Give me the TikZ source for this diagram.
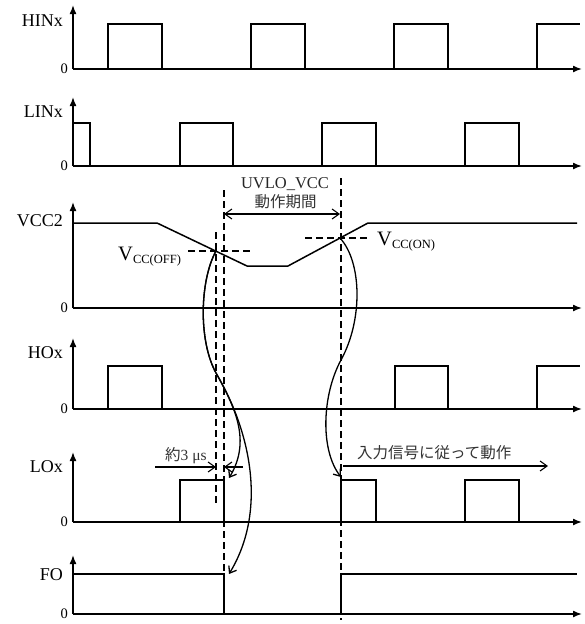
\documentclass[tikz,border=0pt]{standalone}
\usepackage{fontspec}
\setmainfont{Liberation Serif}
\newfontfamily\cjk{Noto Sans CJK JP}
\usetikzlibrary{arrows.meta}
\begin{document}
\begin{tikzpicture}[x=1pt,y=-1pt,
  axis/.style={line width=1.5pt,-{Latex[length=9pt,width=7pt]}},
  sig/.style={line width=1.5pt,line join=miter},
  dsh/.style={line width=1.2pt,dash pattern=on 7pt off 4pt},
  curve/.style={line width=1.3pt,-{Straight Barb[length=6pt,width=9pt]}},
  dim/.style={line width=1.1pt,-{Straight Barb[length=7pt,width=10pt]}},
  lbl/.style={anchor=base east,inner sep=0pt,font=\fontsize{18}{20}\selectfont},
  zero/.style={anchor=base east,inner sep=0pt,font=\fontsize{14.5}{16}\selectfont},
  jp/.style={inner sep=0pt,text=black!80,font=\cjk\fontsize{15.5}{17}\selectfont}]
\useasboundingbox (0,0) rectangle (584,624);

% ---------- axes ----------
\foreach \b/\t in {69/5,166/97,308/202,409/338,522/452,614/555}{
  \draw[axis] (73,\b) -- (73,\t);
  \draw[axis] (73,\b) -- (582,\b);
}

% ---------- labels ----------
\node[lbl] (hin) at (63,26) {HINx};
\node[lbl] (lin) at (63,117) {LINx};
\node[lbl] (vcc) at (63,226) {VCC2};
\node[lbl] (ho) at (63,358) {HOx};
\node[lbl] (lo) at (63,472) {LOx};
\node[lbl] (fo) at (63,580) {FO};
\node[zero] (z1) at (68,73) {0};
\node[zero] (z2) at (68,170) {0};
\node[zero] (z3) at (68,312) {0};
\node[zero] (z4) at (68,413) {0};
\node[zero] (z5) at (68,526) {0};
\node[zero] (z6) at (68,618) {0};

% ---------- HINx ----------
\draw[sig] (73,69) -- (108,69) -- (108,24) -- (162,24) -- (162,69) -- (251,69) -- (251,24) -- (305,24) -- (305,69)
  -- (394,69) -- (394,24) -- (448,24) -- (448,69) -- (537,69) -- (537,24) -- (580,24);
% ---------- LINx ----------
\draw[sig] (73,123) -- (90,123) -- (90,166) -- (180,166) -- (180,123) -- (233,123) -- (233,166) -- (322,166)
  -- (322,123) -- (376,123) -- (376,166) -- (465,166) -- (465,123) -- (519,123) -- (519,166);
% ---------- VCC2 ----------
\draw[sig] (73,223) -- (157,223) -- (247,266) -- (288,266) -- (368,223) -- (577,223);
% ---------- HOx ----------
\draw[sig] (73,409) -- (108,409) -- (108,366) -- (162,366) -- (162,409) -- (395,409) -- (395,366) -- (448,366)
  -- (448,409) -- (537,409) -- (537,366) -- (580,366);
% ---------- LOx ----------
\draw[sig] (73,522) -- (180,522) -- (180,480) -- (224,480) -- (224,522) -- (341,522) -- (341,480) -- (376,480)
  -- (376,522) -- (465,522) -- (465,480) -- (519,480) -- (519,522);
% ---------- FO ----------
\draw[sig] (73,574) -- (224,574) -- (224,614);
\draw[sig] (341,614) -- (341,574) -- (577,574);

% ---------- dashed guides ----------
\draw[dsh] (216,232) -- (216,503);
\draw[dsh] (224,190) -- (224,618);
\draw[dsh] (341,178) -- (341,620);
\draw[dsh] (188,251) -- (251,251);
\draw[dsh] (305,238) -- (368,238);

% ---------- threshold labels ----------
\node[anchor=base west,inner sep=0pt] (voff) at (118,260)
  {\fontsize{20.5}{22}\selectfont V\raisebox{-3pt}{\fontsize{12.5}{14}\selectfont CC(OFF)}};
\node[anchor=base west,inner sep=0pt] (von) at (377,245)
  {\fontsize{20.5}{22}\selectfont V\raisebox{-3pt}{\fontsize{12.5}{14}\selectfont CC(ON)}};

% ---------- UVLO period ----------
\node[anchor=base,inner sep=0pt,text=black!85,font=\fontsize{16.5}{18}\selectfont] (uvlo) at (285,188) {UVLO\_VCC};
\node[jp,anchor=base] (dosa) at (285.5,207) {動作期間};
\coordinate (pa) at (224,214);
\coordinate (pb) at (340,214);
\draw[dim,{Straight Barb[length=7pt,width=10pt]}-{Straight Barb[length=7pt,width=10pt]}] (pa) -- (pb);

% ---------- 3us ----------
\node[anchor=base west,inner sep=0pt,text=black!80,font=\fontsize{15.5}{17}\selectfont] (t3) at (165,460) {{\cjk 約}3 μs};
\coordinate (d1) at (155,467);
\coordinate (d2) at (216,467);
\coordinate (d3) at (243,467);
\coordinate (d4) at (224,467);
\draw[dim] (d1) -- (d2);
\draw[dim] (d3) -- (d4);

% ---------- follow input ----------
\node[jp,anchor=base west] (follow) at (357,458) {入力信号に従って動作};
\coordinate (f1) at (343,466);
\coordinate (f2) at (548,466);
\draw[dim] (f1) -- (f2);

% ---------- causal curves ----------
\coordinate (off) at (216,251);
\coordinate (on) at (340,238);
\coordinate (m1) at (216,373);
\coordinate (m2) at (341,360);
\coordinate (loA) at (229,478);
\coordinate (foA) at (229,574);
\coordinate (loB) at (341,477);
\draw[curve] (off) .. controls (200,280) and (198,340) .. (m1) .. controls (234,406) and (252,440) .. (loA);
\draw[curve] (off) .. controls (200,280) and (198,340) .. (m1) .. controls (250,430) and (268,510) .. (foA);
\draw[curve] (on) .. controls (362,262) and (363,320) .. (m2) .. controls (322,395) and (320,450) .. (loB);
\end{tikzpicture}
\end{document}
